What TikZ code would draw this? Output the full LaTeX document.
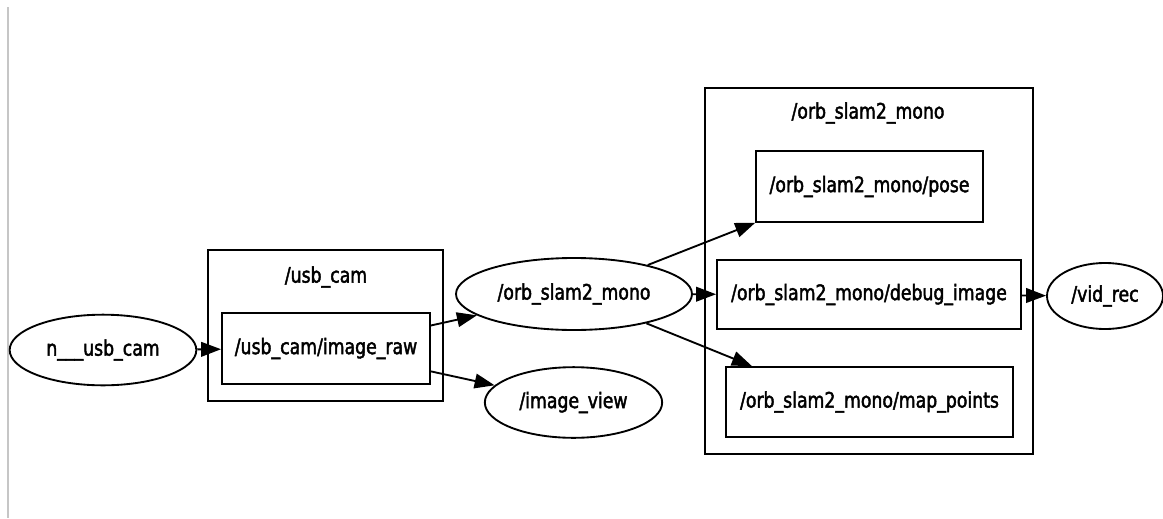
\documentclass[tikz,border=0pt]{standalone}
\usepackage{fontspec}
\setmainfont{DejaVu Sans}[FakeStretch=0.81,FakeBold=2]
\usetikzlibrary{shapes.geometric,arrows.meta}

\begin{document}
\begin{tikzpicture}[x=0.75pt,y=-0.75pt,line width=1.4pt,
  font=\fontsize{16}{18}\selectfont,
  topic/.style={draw,rectangle,inner sep=0pt},
  proc/.style={draw,ellipse,inner sep=0pt},
  >={Triangle[length=15pt,width=11pt]}]
\useasboundingbox (0,0) rectangle (1163,518);
\draw[gray!45,line width=1.5pt] (8,7) -- (8,518);

\draw (208,250) rectangle (443,401);
\node (u) at (326,277) {/usb\_cam};
\draw (705,88) rectangle (1033,454);
\node (o) at (868,113) {/orb\_slam2\_mono};

\node[proc,minimum width=140pt,minimum height=53pt] (cam) at (103,350) {n\_\_\_usb\_cam};
\node[topic,minimum width=156pt,minimum height=53pt] (raw) at (326,348.5) {/usb\_cam/image\_raw};
\path[draw,->] (cam) -- (raw);

\node[proc,minimum width=177pt,minimum height=54pt] (orb) at (574,294) {/orb\_slam2\_mono};
\node[proc,minimum width=133pt,minimum height=53pt] (view) at (573.5,402.5) {/image\_view};
\path[draw,->] (raw) -- (orb);
\path[draw,->] (raw) -- (view);

\node[topic,minimum width=170pt,minimum height=53pt] (pose) at (869.5,186.5) {/orb\_slam2\_mono/pose};
\node[topic,minimum width=228pt,minimum height=52pt] (dbg) at (869,294.5) {/orb\_slam2\_mono/debug\_image};
\node[topic,minimum width=215pt,minimum height=52.5pt] (pts) at (869.5,402) {/orb\_slam2\_mono/map\_points};
\path[draw,->] (orb) -- (pose.south west);
\path[draw,->] (orb) -- (dbg);
\path[draw,->] (orb) -- ([xshift=20pt]pts.north west);

\node[proc,minimum width=87pt,minimum height=49.5pt] (rec) at (1105,296) {/vid\_rec};
\path[draw,->] (dbg) -- (rec);
\end{tikzpicture}
\end{document}
